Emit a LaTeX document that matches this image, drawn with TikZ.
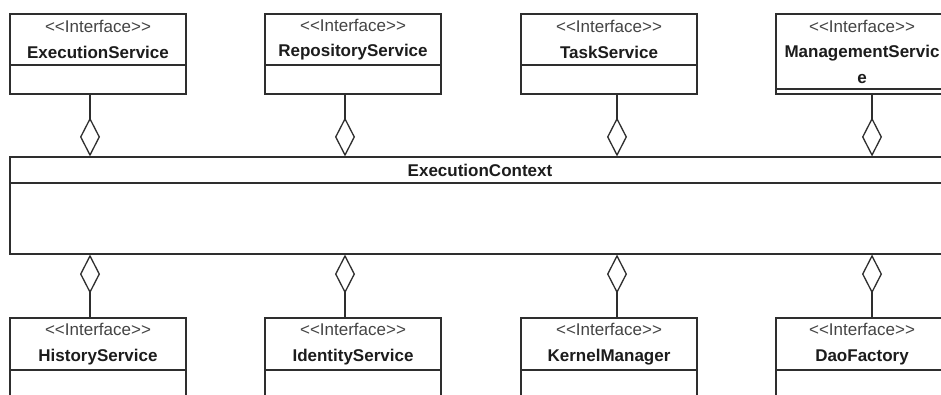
\documentclass[tikz,border=0pt]{standalone}
\usepackage{fontspec}
\setmainfont{Liberation Sans}
\usetikzlibrary{arrows.meta}
\definecolor{linec}{HTML}{2E2E2E}
\definecolor{stereoc}{HTML}{444444}
\definecolor{namec}{HTML}{1C1C1C}
% stereotype label; the empty groups keep << and >> from becoming guillemets
\newcommand{\ifc}{{\color{stereoc}<{}<Interface>{}>}}
\newcommand{\clsname}[1]{{\bfseries\color{namec}#1}}
\begin{document}
\begin{tikzpicture}[x=1pt,y=-1pt,
  part/.style={draw=linec, line width=1.1pt, fill=white, inner sep=0pt,
    align=center, font=\fontsize{17}{25.5}\selectfont},
  head/.style={part, minimum width=176pt, minimum height=51pt},
  body/.style={part, minimum width=176pt, minimum height=29pt},
  lhead/.style={part, minimum width=176pt, minimum height=52pt},
  lbody/.style={part, minimum width=176pt, minimum height=60pt},
  agg/.style={draw=linec, line width=1.2pt,
    -{Diamond[open, length=39pt, width=20pt, line width=1.3pt]}}]
\fill[white] (0,0) rectangle (941,395);
\useasboundingbox (0,0) rectangle (941,395);

% upper row of interfaces
\node[head] (esh) at (98,39.5) {\ifc\\\clsname{ExecutionService}};
\node[body] (es) at (98,79.5) {};
\node[head] (rsh) at (353,39.5) {\ifc\\\clsname{RepositoryService}};
\node[body] (rs) at (353,79.5) {};
\node[head] (tsh) at (609,39.5) {\ifc\\\clsname{TaskService}};
\node[body] (ts) at (609,79.5) {};
\node[part, minimum width=172pt, minimum height=75pt] (msh) at (862,51.5)
  {\ifc\\\clsname{ManagementServic}\\\clsname{e}};
\node[part, minimum width=172pt, minimum height=5pt] (ms) at (862,91.5) {};

% central class
\node[part, minimum width=940pt, minimum height=26pt] (ctxh) at (480,170)
  {\clsname{ExecutionContext}};
\node[part, minimum width=940pt, minimum height=71pt] (ctx) at (480,218.5) {};

% lower row of interfaces
\node[lhead] (hsh) at (98,344) {\ifc\\\clsname{HistoryService}};
\node[lbody] (hs) at (98,400) {};
\node[lhead] (ish) at (353,344) {\ifc\\\clsname{IdentityService}};
\node[lbody] (is) at (353,400) {};
\node[lhead] (kmh) at (609,344) {\ifc\\\clsname{KernelManager}};
\node[lbody] (km) at (609,400) {};
\node[part, minimum width=172pt, minimum height=52pt] (dfh) at (862,344)
  {\ifc\\\clsname{DaoFactory}};
\node[part, minimum width=172pt, minimum height=60pt] (df) at (862,400) {};

% aggregations towards the context (diamond at the context side)
\draw[agg] ([xshift=-8pt]es.south) -- ([xshift=-8pt]es.south |- ctxh.north);
\draw[agg] ([xshift=-8pt]rs.south) -- ([xshift=-8pt]rs.south |- ctxh.north);
\draw[agg] ([xshift=8pt]ts.south) -- ([xshift=8pt]ts.south |- ctxh.north);
\draw[agg] ([xshift=10pt]ms.south) -- ([xshift=10pt]ms.south |- ctxh.north);

\draw[agg] ([xshift=-8pt]hsh.north) -- ([xshift=-8pt]hsh.north |- ctx.south);
\draw[agg] ([xshift=-8pt]ish.north) -- ([xshift=-8pt]ish.north |- ctx.south);
\draw[agg] ([xshift=8pt]kmh.north) -- ([xshift=8pt]kmh.north |- ctx.south);
\draw[agg] ([xshift=10pt]dfh.north) -- ([xshift=10pt]dfh.north |- ctx.south);
\end{tikzpicture}
\end{document}
